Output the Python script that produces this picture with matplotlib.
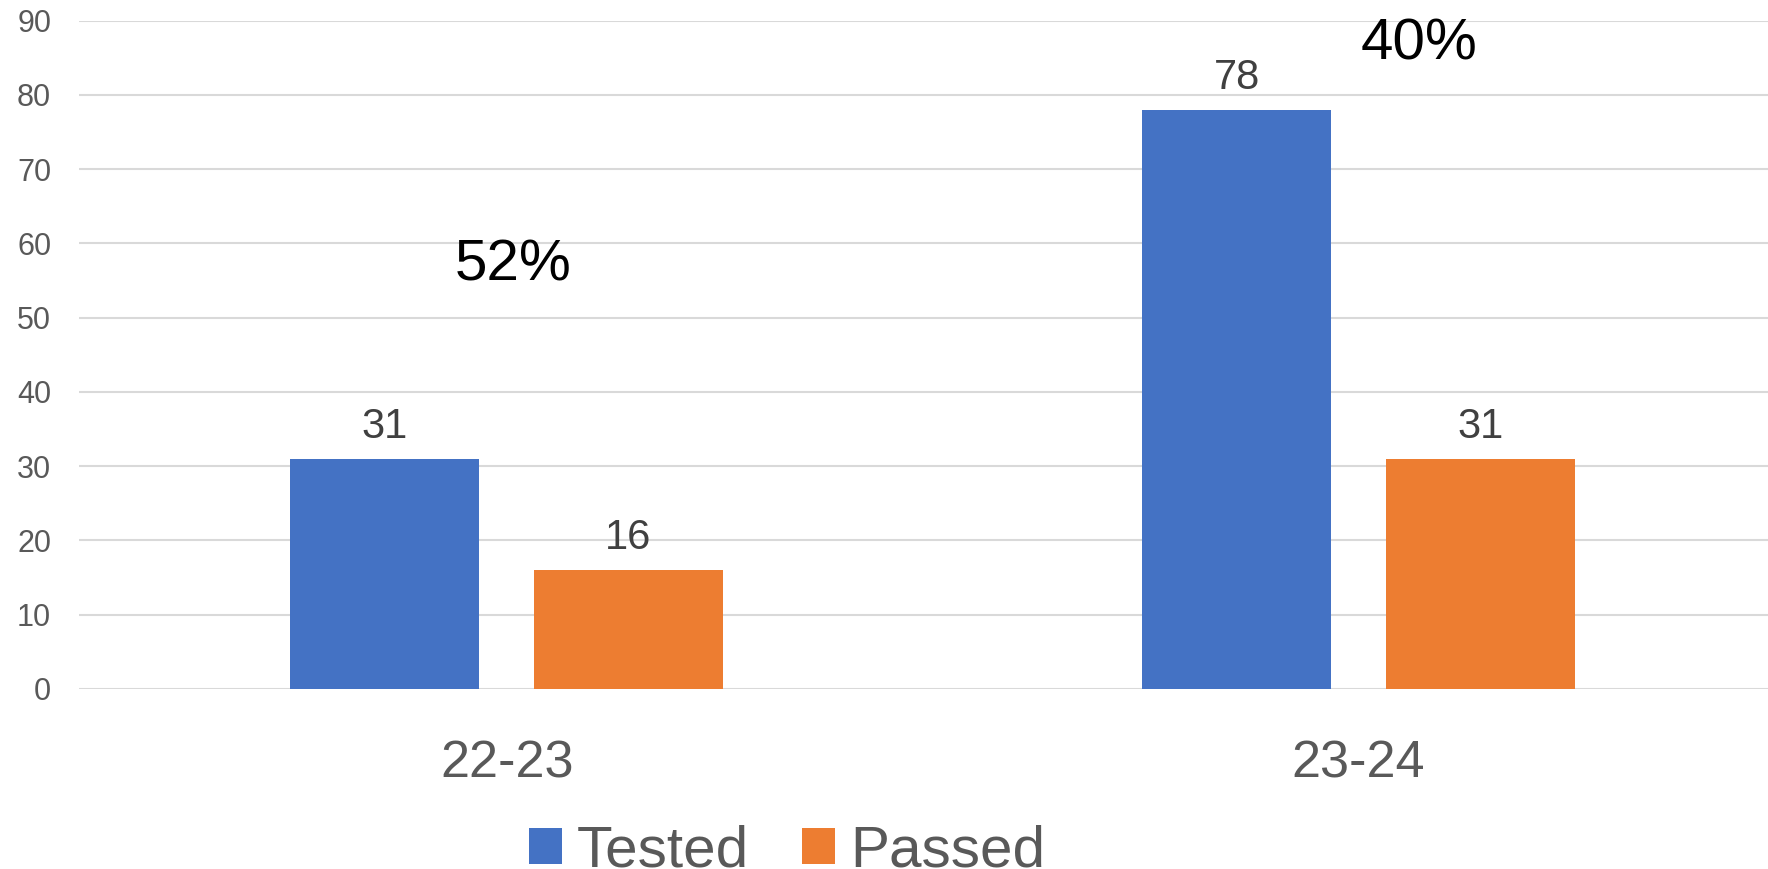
import matplotlib
matplotlib.use("Agg")
import matplotlib.pyplot as plt
import numpy as np

categories = ["22-23", "23-24"]
tested = [31, 78]
passed = [16, 31]
series_names = ["Tested", "Passed"]
yticks = [0, 10, 20, 30, 40, 50, 60, 70, 80, 90]

blue = "#4472C4"
orange = "#ED7D31"
grid_c = "#D9D9D9"
tick_c = "#595959"
label_c = "#404040"

plt.rcParams['font.family'] = ['Liberation Sans', 'DejaVu Sans']

fig = plt.figure(figsize=(17.68, 8.69), dpi=100)
ax = fig.add_axes([79/1768, 1-689/869, 1-79/1768, (689-20.5)/869])

x = np.arange(len(categories))
w = 0.222
off = 0.143
b1 = ax.bar(x - off, tested, w, color=blue, label=series_names[0], zorder=3)
b2 = ax.bar(x + off, passed, w, color=orange, label=series_names[1], zorder=3)

for bars, vals in ((b1, tested), (b2, passed)):
    for r, v in zip(bars, vals):
        ax.annotate(f"{v}", (r.get_x() + r.get_width()/2, v), xytext=(0, 8.5),
                    textcoords="offset points", ha="center", va="bottom",
                    fontsize=30, color=label_c)

# pass-rate annotations
pct_pos = [(0.008, 57.0), (1.071, 86.8)]
for i, (px, py) in enumerate(pct_pos):
    rate = passed[i] / tested[i] * 100
    ax.text(px, py, f"{rate:.0f}%", ha="center", va="center", fontsize=42, color="black")

ax.set_xlim(-0.502, 1.4807)
ax.set_ylim(0, 90)
ax.set_yticks(yticks)
ax.set_xticks(x)
ax.set_xticklabels(categories)
ax.tick_params(axis="y", length=0, pad=20, labelsize=22, labelcolor=tick_c)
ax.tick_params(axis="x", length=0, pad=36, labelsize=37.5, labelcolor=tick_c)
ax.yaxis.grid(True, color=grid_c, lw=1.5, zorder=0)
ax.set_axisbelow(True)
for s in ax.spines.values():
    s.set_visible(False)

fig.legend(handles=[b1, b2], labels=series_names, loc="center", ncol=2,
           bbox_to_anchor=(0.445, 0.020), frameon=False, fontsize=42,
           handlelength=0.57, handleheight=0.57, handletextpad=0.26,
           columnspacing=0.9, borderpad=0, labelcolor=tick_c)

fig.savefig("out.png", dpi=100)
